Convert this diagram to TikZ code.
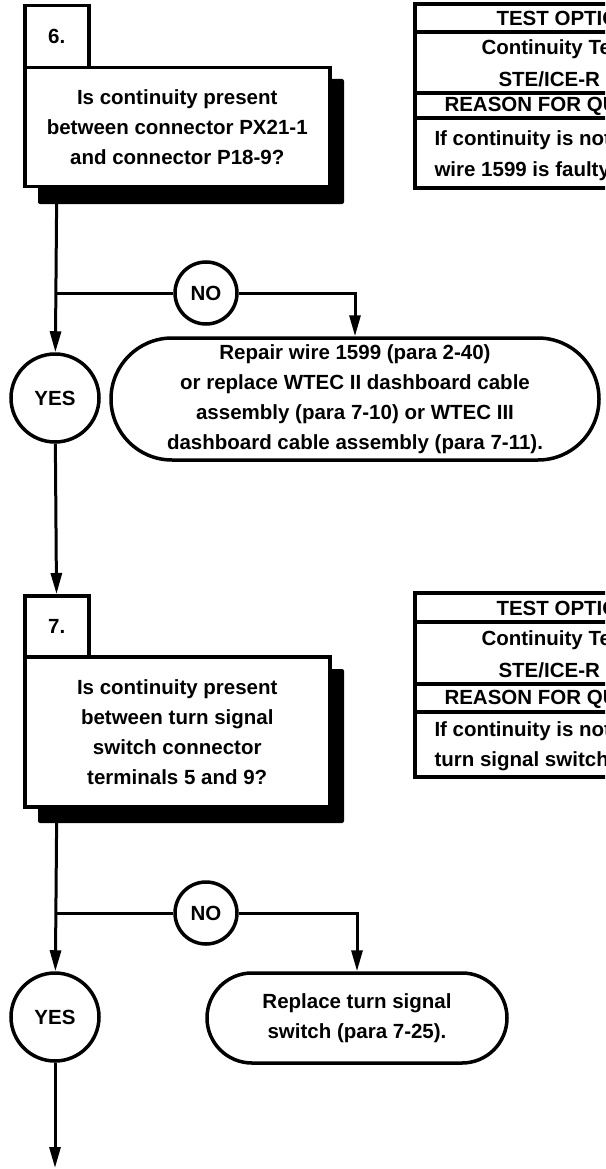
\documentclass[tikz,border=0pt]{standalone}
\usepackage{fontspec}
\setmainfont{Liberation Sans}
\usetikzlibrary{arrows.meta,positioning}

\begin{document}
\begin{tikzpicture}[x=1pt,y=-1pt,line width=3pt,
  every node/.style={font=\fontsize{20.5}{30}\selectfont\bfseries,inner sep=0pt},
  numbox/.style={draw,fill=white,line width=3.5pt,minimum width=64pt,anchor=north west},
  qbox/.style={draw,fill=white,line width=3.5pt,minimum width=305pt,anchor=north west,align=center},
  ans/.style={draw,circle,fill=white,line width=3.5pt},
  pill/.style={draw,fill=white,line width=3.5pt,align=center},
  tbl/.style={line width=4pt},
  tline/.style={anchor=west},
  arr/.style={-{Triangle[length=21pt,width=11pt]}}]
\useasboundingbox (0,0) rectangle (605,1169);
\clip (0,0) rectangle (605,1169);

% step 6
\fill[rounded corners=2pt] (38,79) rectangle (344,204);
\node[qbox,minimum height=119pt] (q6) at (23,66) {Is continuity present\\between connector PX21-1\\and connector P18-9?};
\node[numbox,minimum height=62pt] (n6) at (23,4) {6.};
\draw[tbl] (415,4) rectangle (720,188);
\foreach \y in {32,93,118} \draw[tbl] (415,\y) -- (720,\y);
\node[tline] (t6a) at (495,18) {TEST OPTIONS};
\node[tline] (t6b) at (480,49) {Continuity Test};
\node[tline] (t6c) at (497,79) {STE/ICE-R};
\node[tline] (t6d) at (443,106) {REASON FOR QUESTION};
\node[tline] (t6e) at (433,140) {If continuity is not};
\node[tline] (t6f) at (433,171) {wire 1599 is faulty.};

\coordinate (b6) at (55,293);
\node[ans,minimum size=62pt] (no6) at (206,293) {NO};
\node[ans,minimum size=88pt] (yes6) at (55,398) {YES};
\node[pill,minimum width=488pt,minimum height=122pt,rounded corners=61pt] (fix6) at (355,399)
  {Repair wire 1599 (para 2-40)\\or replace WTEC II dashboard cable\\assembly (para 7-10) or WTEC III\\dashboard cable assembly (para 7-11).};
\draw[arr] (q6.south -| n6) -- (yes6);
\draw (b6) -- (no6);
\draw[arr] (no6) -| (fix6);

% step 7
\fill[rounded corners=2pt] (38,669) rectangle (344,823);
\node[qbox,minimum height=150pt] (q7) at (23,655) {Is continuity present\\between turn signal\\switch connector\\terminals 5 and 9?};
\node[numbox,minimum height=61pt] (n7) at (23,594) {7.};
\draw[arr] (yes6) -- (n7);
\draw[tbl] (415,593) rectangle (720,777);
\foreach \y in {622,684,712} \draw[tbl] (415,\y) -- (720,\y);
\node[tline] (t7a) at (495,608) {TEST OPTIONS};
\node[tline] (t7b) at (480,640) {Continuity Test};
\node[tline] (t7c) at (497,670) {STE/ICE-R};
\node[tline] (t7d) at (443,699) {REASON FOR QUESTION};
\node[tline] (t7e) at (433,731) {If continuity is not};
\node[tline] (t7f) at (433,761) {turn signal switch};

\coordinate (b7) at (55,913);
\node[ans,minimum size=62pt] (no7) at (206,913) {NO};
\node[ans,minimum size=88pt] (yes7) at (55,1017) {YES};
\node[pill,minimum width=300pt,minimum height=90pt,rounded corners=45pt] (fix7) at (357,1018)
  {Replace turn signal\\switch (para 7-25).};
\coordinate (out7) at (55,1168);
\draw[arr] (q7.south -| n7) -- (yes7);
\draw (b7) -- (no7);
\draw[arr] (no7) -| (fix7);
\draw[arr] (yes7) -- (out7);
\end{tikzpicture}
\end{document}
